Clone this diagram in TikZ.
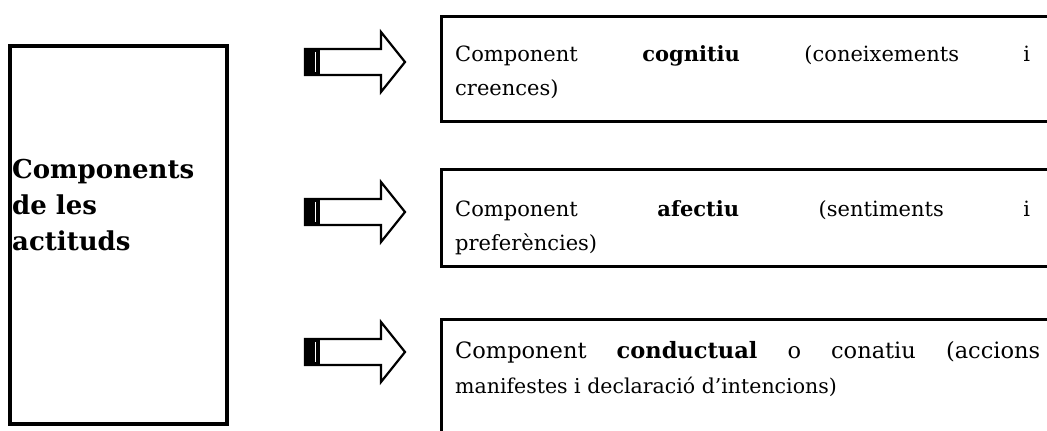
\documentclass[tikz,border=0pt]{standalone}
\usepackage{fontspec}
\setmainfont{DejaVu Serif}
\usetikzlibrary{calc}

\tikzset{
  frame/.style={draw=black, line width=3.4pt, fill=none, inner sep=0pt},
  bodytext/.style={anchor=base west, inner sep=0pt, font=\fontsize{21}{34}\selectfont},
  titletext/.style={anchor=base west, inner sep=0pt, font=\bfseries\fontsize{26}{36}\selectfont},
  arrowline/.style={draw=black, line width=2.2pt, line join=miter, fill=white},
  pics/blockarrow/.style={code={
    % hollow block arrow pointing right, tail at (0,0)
    \path[arrowline] (0,-13) -- (76,-13) -- (76,-30) -- (100,0) -- (76,30) -- (76,13) -- (0,13) -- cycle;
    % dark tail band with a thin light stripe
    \fill[black] (0,-14) rectangle (15,14);
    \draw[white, line width=1pt] (10,-10) -- (10,10);
  }},
}

\begin{document}
\begin{tikzpicture}[x=1pt,y=-1pt]
  \useasboundingbox (0,0) rectangle (1047,431);
  \fill[white] (0,0) rectangle (1047,431);

  % main box on the left
  \node[frame, line width=3.8pt, minimum width=217pt, minimum height=378pt] (attitudes) at (118.5,235) {};
  \node[titletext] (attlabel) at (12,178)
    {\parbox[t]{210pt}{\raggedright Components\\de les\\actituds}};

  % three component boxes on the right (open towards the page edge)
  \node[frame, anchor=north west, minimum width=700pt, minimum height=105pt] (cognitive) at (440,15) {};
  \node[frame, anchor=north west, minimum width=700pt, minimum height=97pt] (affective) at (440,168) {};
  \node[frame, anchor=north west, minimum width=700pt, minimum height=200pt] (conative) at (440,318) {};

  \node[bodytext] (cogtext) at (455,61)
    {\parbox[t]{580pt}{\makebox[575pt][s]{Component \textbf{cognitiu} (coneixements i}\\creences)}};
  \node[bodytext] (afftext) at (455,216)
    {\parbox[t]{580pt}{\makebox[575pt][s]{Component \textbf{afectiu} (sentiments i}\\preferències)}};
  \node[bodytext] (context) at (455,358)
    {\parbox[t]{590pt}{{\fontsize{22.5}{34}\selectfont\makebox[585pt][s]{Component \textbf{conductual} o conatiu (accions}}\\[1pt]{\fontsize{20.5}{34}\selectfont manifestes i declaració d’intencions)}}};

  % block arrows from the main box to each component
  \coordinate (a1) at (305,62);
  \coordinate (a2) at (305,212);
  \coordinate (a3) at (305,352);
  \pic at (a1) {blockarrow};
  \pic at (a2) {blockarrow};
  \pic at (a3) {blockarrow};
\end{tikzpicture}
\end{document}
